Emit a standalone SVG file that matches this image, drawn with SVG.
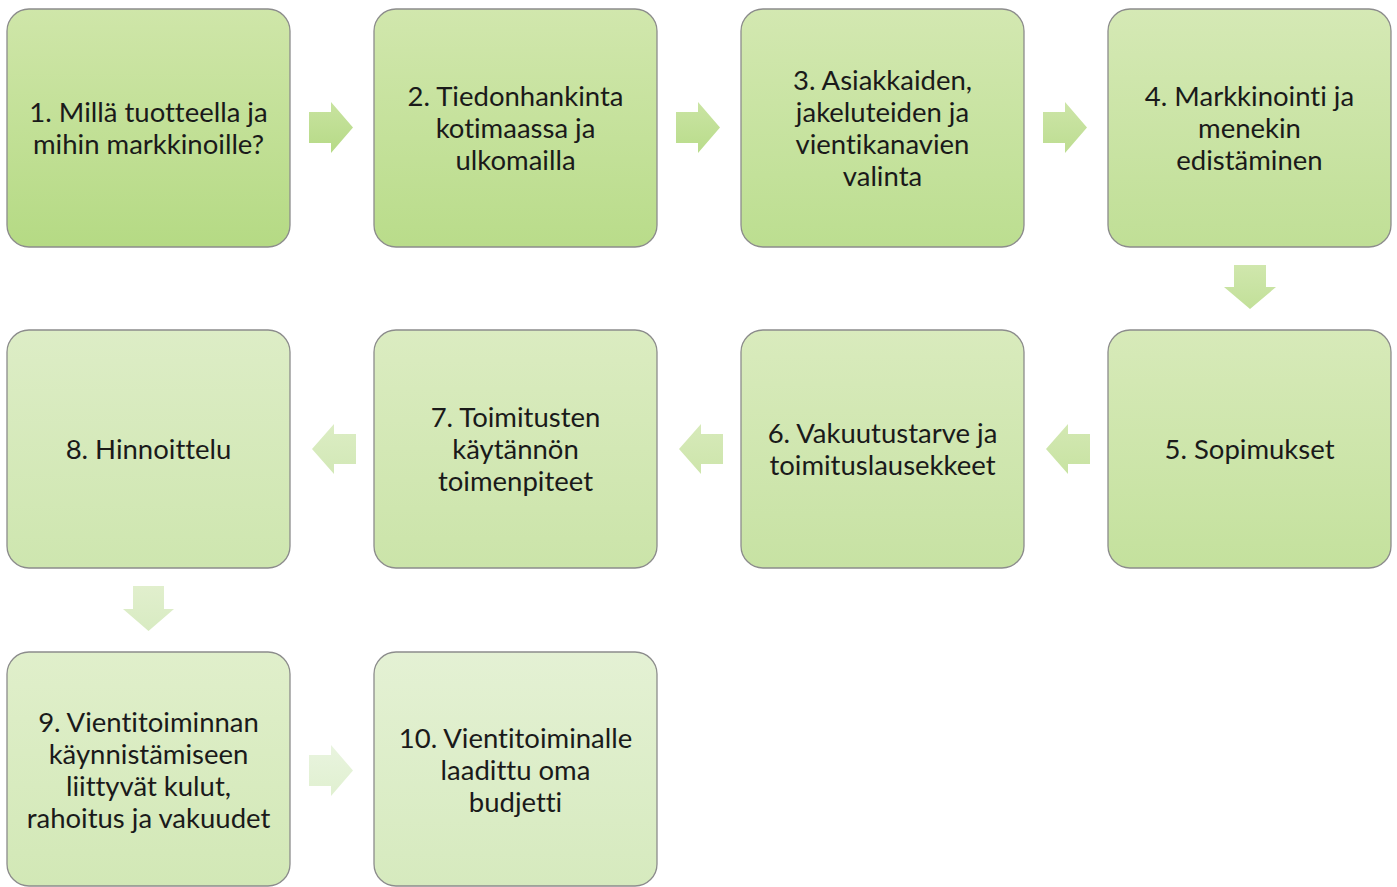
<svg xmlns="http://www.w3.org/2000/svg" width="1397" height="887" viewBox="0 0 1397 887">
<style>
.box{stroke:#8c8c8c;stroke-width:1.3}
.t{font-family:Lato,"Open Sans","Liberation Sans",sans-serif;font-size:27.5px;fill:#1a1a1a;text-anchor:middle;dominant-baseline:central;font-variant-ligatures:none;font-feature-settings:"liga" 0}
</style>
<defs>
<linearGradient id="g1" x1="0" y1="0" x2="0" y2="1"><stop offset="0" stop-color="#cfe6a9"/><stop offset="1" stop-color="#b5da84"/></linearGradient>
<linearGradient id="g2" x1="0" y1="0" x2="0" y2="1"><stop offset="0" stop-color="#d1e7ad"/><stop offset="1" stop-color="#b9dc8a"/></linearGradient>
<linearGradient id="g3" x1="0" y1="0" x2="0" y2="1"><stop offset="0" stop-color="#d3e8b1"/><stop offset="1" stop-color="#bcde90"/></linearGradient>
<linearGradient id="g4" x1="0" y1="0" x2="0" y2="1"><stop offset="0" stop-color="#d5e9b5"/><stop offset="1" stop-color="#c0df96"/></linearGradient>
<linearGradient id="g5" x1="0" y1="0" x2="0" y2="1"><stop offset="0" stop-color="#d7eab9"/><stop offset="1" stop-color="#c4e19d"/></linearGradient>
<linearGradient id="g6" x1="0" y1="0" x2="0" y2="1"><stop offset="0" stop-color="#d9ebbd"/><stop offset="1" stop-color="#c7e2a3"/></linearGradient>
<linearGradient id="g7" x1="0" y1="0" x2="0" y2="1"><stop offset="0" stop-color="#dbecc1"/><stop offset="1" stop-color="#cbe4a9"/></linearGradient>
<linearGradient id="g8" x1="0" y1="0" x2="0" y2="1"><stop offset="0" stop-color="#ddedc6"/><stop offset="1" stop-color="#cee6af"/></linearGradient>
<linearGradient id="g9" x1="0" y1="0" x2="0" y2="1"><stop offset="0" stop-color="#e0efcb"/><stop offset="1" stop-color="#d2e8b6"/></linearGradient>
<linearGradient id="g10" x1="0" y1="0" x2="0" y2="1"><stop offset="0" stop-color="#e4f1d4"/><stop offset="1" stop-color="#d6eabe"/></linearGradient>
<linearGradient id="a1" x1="0" y1="0" x2="0" y2="1"><stop offset="0" stop-color="#c8e3a0"/><stop offset="1" stop-color="#b6da86"/></linearGradient>
<linearGradient id="a2" x1="0" y1="0" x2="0" y2="1"><stop offset="0" stop-color="#cae4a3"/><stop offset="1" stop-color="#b9dc8b"/></linearGradient>
<linearGradient id="a3" x1="0" y1="0" x2="0" y2="1"><stop offset="0" stop-color="#cde5a8"/><stop offset="1" stop-color="#bddd91"/></linearGradient>
<linearGradient id="a4" x1="0" y1="0" x2="0" y2="1"><stop offset="0" stop-color="#d0e7ad"/><stop offset="1" stop-color="#c2e099"/></linearGradient>
<linearGradient id="a5" x1="0" y1="0" x2="0" y2="1"><stop offset="0" stop-color="#d3e8b3"/><stop offset="1" stop-color="#c8e3a2"/></linearGradient>
<linearGradient id="a6" x1="0" y1="0" x2="0" y2="1"><stop offset="0" stop-color="#d7eaba"/><stop offset="1" stop-color="#cde5ab"/></linearGradient>
<linearGradient id="a7" x1="0" y1="0" x2="0" y2="1"><stop offset="0" stop-color="#dcedc4"/><stop offset="1" stop-color="#d2e8b6"/></linearGradient>
<linearGradient id="a8" x1="0" y1="0" x2="0" y2="1"><stop offset="0" stop-color="#e1efcd"/><stop offset="1" stop-color="#d8ebc2"/></linearGradient>
<linearGradient id="a9" x1="0" y1="0" x2="0" y2="1"><stop offset="0" stop-color="#e9f4df"/><stop offset="1" stop-color="#e0f0d0"/></linearGradient>
</defs>

<g id="connectors">
<path d="M309,112 H331 V102 L353,127.5 L331,153 V143 H309 Z" fill="url(#a1)"/>
<path d="M676,112 H698 V102 L720,127.5 L698,153 V143 H676 Z" fill="url(#a2)"/>
<path d="M1043,112 H1065 V102 L1087,127.5 L1065,153 V143 H1043 Z" fill="url(#a3)"/>
<path d="M1234,265 H1266 V287 H1276 L1250,309 L1224,287 H1234 Z" fill="url(#a4)"/>
<path d="M1090,434 H1068 V424 L1046,449 L1068,474 V464 H1090 Z" fill="url(#a5)"/>
<path d="M723,434 H701 V424 L679,449 L701,474 V464 H723 Z" fill="url(#a6)"/>
<path d="M356,434 H334 V424 L312,449 L334,474 V464 H356 Z" fill="url(#a7)"/>
<path d="M133,586 H164 V609 H174 L148.5,631 L123,609 H133 Z" fill="url(#a8)"/>
<path d="M309,755 H331 V745 L353,770.5 L331,796 V786 H309 Z" fill="url(#a9)"/>
</g>

<g id="n1"><rect class="box" x="7" y="9" width="283" height="238" rx="22" fill="url(#g1)"/>
<text class="t"><tspan x="148.5" y="111">1. Millä tuotteella ja</tspan><tspan x="148.5" y="143">mihin markkinoille?</tspan></text></g>
<g id="n2"><rect class="box" x="374" y="9" width="283" height="238" rx="22" fill="url(#g2)"/>
<text class="t"><tspan x="515.5" y="95">2. Tiedonhankinta</tspan><tspan x="515.5" y="127">kotimaassa ja</tspan><tspan x="515.5" y="159">ulkomailla</tspan></text></g>
<g id="n3"><rect class="box" x="741" y="9" width="283" height="238" rx="22" fill="url(#g3)"/>
<text class="t"><tspan x="882.5" y="79">3. Asiakkaiden,</tspan><tspan x="882.5" y="111">jakeluteiden ja</tspan><tspan x="882.5" y="143">vientikanavien</tspan><tspan x="882.5" y="175">valinta</tspan></text></g>
<g id="n4"><rect class="box" x="1108" y="9" width="283" height="238" rx="22" fill="url(#g4)"/>
<text class="t"><tspan x="1249.5" y="95">4. Markkinointi ja</tspan><tspan x="1249.5" y="127">menekin</tspan><tspan x="1249.5" y="159">edistäminen</tspan></text></g>
<g id="n5"><rect class="box" x="1108" y="330" width="283" height="238" rx="22" fill="url(#g5)"/>
<text class="t"><tspan x="1249.5" y="448">5. Sopimukset</tspan></text></g>
<g id="n6"><rect class="box" x="741" y="330" width="283" height="238" rx="22" fill="url(#g6)"/>
<text class="t"><tspan x="882.5" y="432">6. Vakuutustarve ja</tspan><tspan x="882.5" y="464">toimituslausekkeet</tspan></text></g>
<g id="n7"><rect class="box" x="374" y="330" width="283" height="238" rx="22" fill="url(#g7)"/>
<text class="t"><tspan x="515.5" y="416">7. Toimitusten</tspan><tspan x="515.5" y="448">käytännön</tspan><tspan x="515.5" y="480">toimenpiteet</tspan></text></g>
<g id="n8"><rect class="box" x="7" y="330" width="283" height="238" rx="22" fill="url(#g8)"/>
<text class="t"><tspan x="148.5" y="448">8. Hinnoittelu</tspan></text></g>
<g id="n9"><rect class="box" x="7" y="652" width="283" height="234" rx="22" fill="url(#g9)"/>
<text class="t"><tspan x="148.5" y="721">9. Vientitoiminnan</tspan><tspan x="148.5" y="753">käynnistämiseen</tspan><tspan x="148.5" y="785">liittyvät kulut,</tspan><tspan x="148.5" y="817">rahoitus ja vakuudet</tspan></text></g>
<g id="n10"><rect class="box" x="374" y="652" width="283" height="234" rx="22" fill="url(#g10)"/>
<text class="t"><tspan x="515.5" y="737">10. Vientitoiminalle</tspan><tspan x="515.5" y="769">laadittu oma</tspan><tspan x="515.5" y="801">budjetti</tspan></text></g>
</svg>
